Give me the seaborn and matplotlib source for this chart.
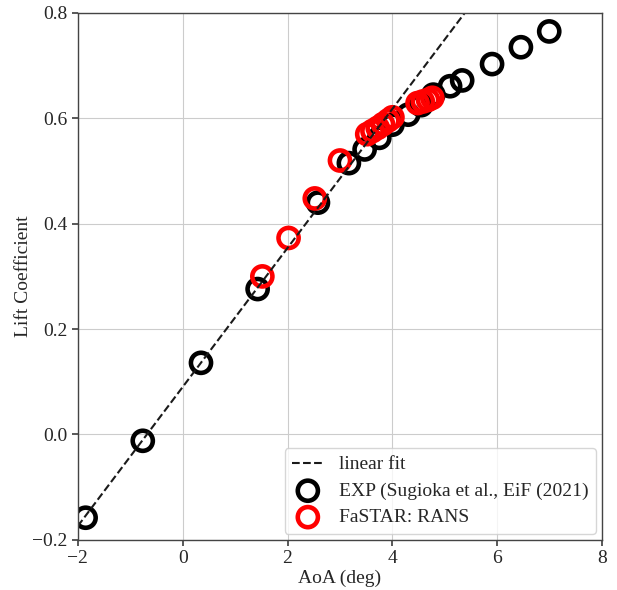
import numpy as np
import pandas as pd
import matplotlib
matplotlib.use("Agg")
import matplotlib.pyplot as plt
import seaborn as sns

# experiment (Sugioka et al.)
exp_aoa = [-1.85, -0.76, 0.35, 1.43, 2.58, 3.17, 3.47, 3.75, 4.0, 4.3,
           4.55, 4.78, 5.1, 5.33, 5.9, 6.45, 6.99]
exp_cl = [-0.158, -0.012, 0.136, 0.276, 0.44, 0.515, 0.541, 0.563, 0.588, 0.607,
          0.625, 0.645, 0.661, 0.672, 0.703, 0.735, 0.765]

# FaSTAR RANS
cfd_aoa = [1.52, 2.02, 2.52, 3.0, 3.52, 3.62, 3.72, 3.82, 3.92, 4.0,
           4.48, 4.58, 4.68, 4.76]
cfd_cl = [0.30, 0.373, 0.448, 0.52, 0.570, 0.576, 0.582, 0.589, 0.596, 0.602,
          0.629, 0.632, 0.635, 0.639]

# linear fit end points
fit_aoa = [-2.0, 8.0]
fit_cl = [-0.174, 1.146]

sns.set_theme(style="ticks")
plt.rcParams['font.family'] = ['Liberation Serif', 'DejaVu Serif']
fs = 14

fig = plt.figure(figsize=(6.17, 5.9), dpi=100)
ax = fig.add_axes([0.126, 0.085, 0.85, 0.893])

df_exp = pd.DataFrame({'aoa': exp_aoa, 'cl': exp_cl})
df_cfd = pd.DataFrame({'aoa': cfd_aoa, 'cl': cfd_cl})

sns.lineplot(x=fit_aoa, y=fit_cl, ax=ax, color='k', linestyle='--', linewidth=1.5,
             label='linear fit')
sns.scatterplot(data=df_exp, x='aoa', y='cl', ax=ax, s=210, facecolor='none',
                edgecolor='black', linewidth=3.3, label='EXP (Sugioka et al., EiF (2021)')
sns.scatterplot(data=df_cfd, x='aoa', y='cl', ax=ax, s=210, facecolor='none',
                edgecolor='red', linewidth=3.3, label='FaSTAR: RANS')

ax.set_xlim(-2, 8)
ax.set_ylim(-0.2, 0.8)
ax.set_xticks([-2, 0, 2, 4, 6, 8])
ax.set_yticks([-0.2, 0.0, 0.2, 0.4, 0.6, 0.8])
ax.grid(True, color='#cccccc', linewidth=0.8)
ax.set_xlabel('AoA (deg)', fontsize=fs, labelpad=2)
ax.set_ylabel('Lift Coefficient', fontsize=fs, labelpad=0)
ax.tick_params(labelsize=fs, color='#444444', length=4)
for sp in ax.spines.values():
    sp.set_color('#444444')
    sp.set_linewidth(1.0)

ax.legend(loc='lower right', fontsize=fs, framealpha=0.8, markerscale=1.0,
          borderaxespad=0.3, handlelength=1.6, handletextpad=0.8, labelspacing=0.45)

fig.savefig('out.png', dpi=100)
